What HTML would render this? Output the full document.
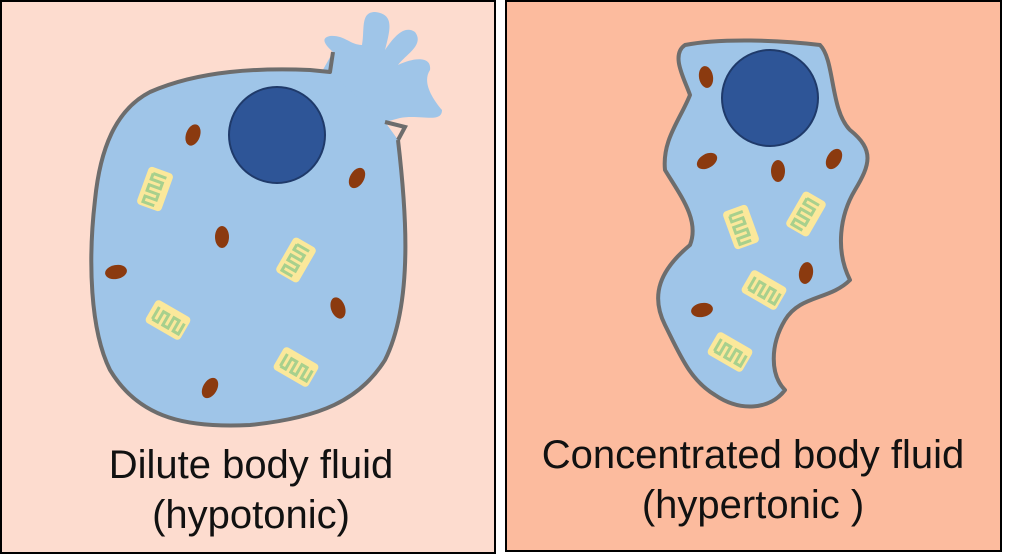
<!DOCTYPE html>
<html><head><style>body{margin:0;background:#fff}svg{display:block}</style></head><body>
<svg width="1024" height="559" viewBox="0 0 1024 559" xmlns="http://www.w3.org/2000/svg" font-family="Liberation Sans, sans-serif">
<defs>
<g id="ch"><rect x="-13" y="-20" width="26" height="40" rx="4" fill="#fbe89b"/><path d="M-7,-14 h14 M-7,-14 v6 h12 v6 h-12 v6 h12 v6 h-12 v6 h12" fill="none" stroke="#a8d08d" stroke-width="3"/></g>
<ellipse id="mt" rx="7" ry="11" fill="#8b3a0f"/>
</defs>
<rect x="1" y="1" width="494" height="552" fill="#fddccf" stroke="#000" stroke-width="2"/>
<rect x="506" y="1" width="495" height="550" fill="#fcbb9e" stroke="#000" stroke-width="2"/>
<path d="M320,75 L333,52 C325,45 320,38 330,36 C345,35 350,45 362,45 C365,30 360,12 375,12 C395,14 390,30 385,50 C395,35 405,25 415,32 C425,45 405,55 398,65 C412,58 432,55 430,70 C422,82 432,98 442,110 C442,124 420,114 400,118 L385,122 L398,140 Z" fill="#9fc5e8"/>
<path d="M398,140 C405,200 415,300 385,360 C360,400 320,418 250,425 C190,428 140,420 110,370 C90,330 88,260 95,200 C100,150 115,110 150,92 C200,70 260,68 310,70 L330,72 L385,122 Z" fill="#9fc5e8"/>
<path d="M398,140 C405,200 415,300 385,360 C360,400 320,418 250,425 C190,428 140,420 110,370 C90,330 88,260 95,200 C100,150 115,110 150,92 C200,70 260,68 310,70 L330,72 L333,52" fill="none" stroke="#6d6d6d" stroke-width="4" stroke-linejoin="round"/>
<path d="M385,122 L405,127 L398,140" fill="none" stroke="#6d6d6d" stroke-width="4"/>
<circle cx="277" cy="135" r="48" fill="#2e5597" stroke="#1f3a6a" stroke-width="2"/>
<path d="M685,45 C720,38 780,40 820,45 C835,60 830,110 850,130 C875,150 870,165 855,190 C840,215 835,250 850,280 C830,300 800,295 785,320 C770,345 770,375 785,390 C770,410 740,412 715,395 C690,380 680,355 665,325 C650,295 660,270 690,245 C700,220 680,195 665,170 C662,140 680,120 690,95 C685,80 670,55 685,45 Z" fill="#9fc5e8" stroke="#6d6d6d" stroke-width="4" stroke-linejoin="round"/>
<circle cx="770" cy="98" r="48" fill="#2e5597" stroke="#1f3a6a" stroke-width="2"/>
<use href="#mt" transform="translate(193,135) rotate(20)"/>
<use href="#mt" transform="translate(357,178) rotate(30)"/>
<use href="#mt" transform="translate(222,237)"/>
<use href="#mt" transform="translate(116,272) rotate(80)"/>
<use href="#mt" transform="translate(338,308) rotate(-20)"/>
<use href="#mt" transform="translate(210,388) rotate(30)"/>
<use href="#mt" transform="translate(706,77) rotate(-10)"/>
<use href="#mt" transform="translate(707,161) rotate(60)"/>
<use href="#mt" transform="translate(778,171)"/>
<use href="#mt" transform="translate(834,159) rotate(30)"/>
<use href="#mt" transform="translate(806,273) rotate(10)"/>
<use href="#mt" transform="translate(702,310) rotate(80)"/>
<use href="#ch" transform="translate(155,189) rotate(20)"/>
<use href="#ch" transform="translate(296,260) rotate(30)"/>
<use href="#ch" transform="translate(168,320) rotate(-60)"/>
<use href="#ch" transform="translate(296,367) rotate(-60)"/>
<use href="#ch" transform="translate(741,227) rotate(-20)"/>
<use href="#ch" transform="translate(806,214) rotate(30)"/>
<use href="#ch" transform="translate(764,290) rotate(-60)"/>
<use href="#ch" transform="translate(730,352) rotate(-60)"/>
<g font-size="40" fill="#111" text-anchor="middle">
<text x="251" y="478">Dilute body fluid</text>
<text x="251" y="528">(hypotonic)</text>
<text x="753" y="468">Concentrated body fluid</text>
<text x="753" y="518">(hypertonic )</text>
</g>
</svg>
</body></html>
